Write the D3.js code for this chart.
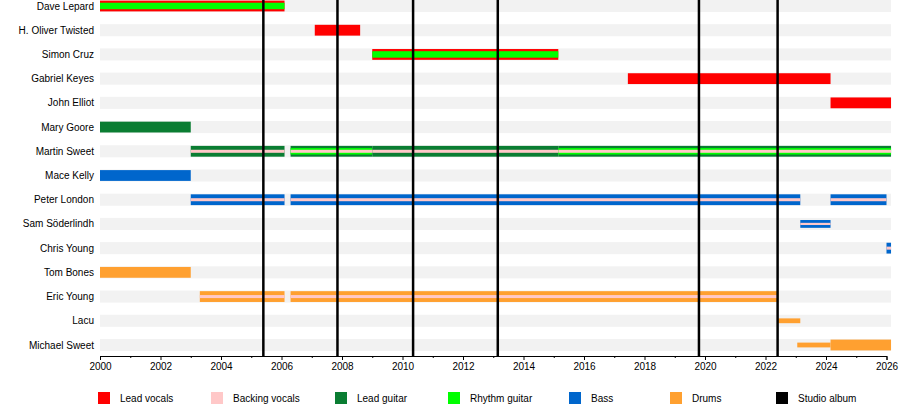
<!DOCTYPE html><html><head><meta charset="utf-8"><script src="https://cdn.jsdelivr.net/npm/d3@7"></script>
<style>body{margin:0;background:#fff}text{font-family:"Liberation Sans",Arial,sans-serif;font-size:10px;fill:#000}</style></head><body><svg id="c" width="900" height="408"></svg><script>
const members=["Dave Lepard","H. Oliver Twisted","Simon Cruz","Gabriel Keyes","John Elliot","Mary Goore","Martin Sweet","Mace Kelly","Peter London","Sam Söderlindh","Chris Young","Tom Bones","Eric Young","Lacu","Michael Sweet"];
const roles=["Lead vocals","Backing vocals","Lead guitar","Rhythm guitar","Bass","Drums","Studio album"];
const roleColors=["#ff0000","#ffc8c8","#0a7d32","#00ff00","#0066cc","#ffa030","#000000"];
// [member, start, end, outer role, inner role or null, backing stripe, size]
const periods=[
["Dave Lepard",2000,2006.1,"Lead vocals","Rhythm guitar",false,"full"],
["H. Oliver Twisted",2007.1,2008.6,"Lead vocals",null,false,"full"],
["Simon Cruz",2009.0,2015.15,"Lead vocals","Rhythm guitar",false,"full"],
["Gabriel Keyes",2017.45,2024.15,"Lead vocals",null,false,"full"],
["John Elliot",2024.15,2026.15,"Lead vocals",null,false,"full"],
["Mary Goore",2000,2003,"Lead guitar",null,false,"full"],
["Martin Sweet",2003,2006.1,"Lead guitar",null,true,"full"],
["Martin Sweet",2006.3,2009,"Lead guitar","Rhythm guitar",true,"full"],
["Martin Sweet",2009,2015.15,"Lead guitar",null,true,"full"],
["Martin Sweet",2015.15,2026.15,"Lead guitar","Rhythm guitar",true,"full"],
["Mace Kelly",2000,2003,"Bass",null,false,"full"],
["Peter London",2003,2006.1,"Bass",null,true,"full"],
["Peter London",2006.3,2023.15,"Bass",null,true,"full"],
["Peter London",2024.15,2026.0,"Bass",null,true,"full"],
["Sam Söderlindh",2023.15,2024.15,"Bass",null,true,"mid"],
["Chris Young",2026.0,2026.15,"Bass",null,true,"full"],
["Tom Bones",2000,2003,"Drums",null,false,"full"],
["Eric Young",2003.3,2006.1,"Drums",null,true,"full"],
["Eric Young",2006.3,2022.4,"Drums",null,true,"full"],
["Lacu",2022.4,2023.15,"Drums",null,false,"thin"],
["Michael Sweet",2023.05,2024.15,"Drums",null,false,"thin"],
["Michael Sweet",2024.15,2026.15,"Drums",null,false,"full"]];
const albums=[2005.4,2007.85,2010.35,2013.15,2019.8,2022.4];
const ticks=[2000,2002,2004,2006,2008,2010,2012,2014,2016,2018,2020,2022,2024,2026];

const svg=d3.select("#c");
const x=d3.scaleLinear().domain([2000,2026]).range([100,886.5]);
const yc=d3.scalePoint().domain(members).range([6,345]);
const bh=12;
const col=d3.scaleOrdinal().domain(roles).range(roleColors);
svg.append("g").selectAll("rect").data(members).join("rect")
 .attr("x",x(2000)).attr("width",x(2026.15)-x(2000)).attr("y",d=>yc(d)-bh/2).attr("height",bh).attr("fill","#f2f2f2");
svg.append("g").selectAll("text").data(members).join("text")
 .attr("x",94).attr("y",d=>yc(d)).attr("dy","0.35em").attr("text-anchor","end").text(d=>d);
const sz={full:0.9,mid:0.65,thin:0.4};
const g=svg.append("g");
periods.forEach(p=>{
 const h=bh*sz[p[6]], cy=yc(p[0]), x0=x(p[1]), w=x(p[2])-x(p[1]);
 g.append("rect").attr("x",x0).attr("width",w).attr("y",cy-h/2).attr("height",h).attr("fill",col(p[3]));
 if(p[4]){const ih=h*0.6;g.append("rect").attr("x",x0).attr("width",w).attr("y",cy-ih/2).attr("height",ih).attr("fill",col(p[4]));}
 if(p[5]){const sh=h*0.28;g.append("rect").attr("x",x0).attr("width",w).attr("y",cy-sh/2).attr("height",sh).attr("fill",col("Backing vocals"));}
});
svg.append("g").selectAll("line").data(albums).join("line")
 .attr("x1",d=>x(d)).attr("x2",d=>x(d)).attr("y1",0).attr("y2",356).attr("stroke","#000").attr("stroke-width",2.5);
const ax=svg.append("g").attr("transform","translate(0,356)").call(d3.axisBottom(x).tickValues(ticks).tickFormat(d3.format("d")).tickSize(4));
ax.select(".domain").attr("stroke","#000");
ax.selectAll("text").style("font-size","10px").style("font-family","Liberation Sans,Arial");
svg.append("g").attr("transform","translate(0,356)").call(d3.axisBottom(x).tickValues(d3.range(2001,2026,2)).tickFormat("").tickSize(2)).select(".domain").remove();
const lx=[98,211,335,448,569,670,776];
const lg=svg.append("g").selectAll("g").data(roles).join("g").attr("transform",(d,i)=>`translate(${lx[i]},392)`);
lg.append("rect").attr("width",12).attr("height",12).attr("fill",d=>col(d));
lg.append("text").attr("x",22).attr("y",6).attr("dy","0.35em").text(d=>d);
</script></body></html>
